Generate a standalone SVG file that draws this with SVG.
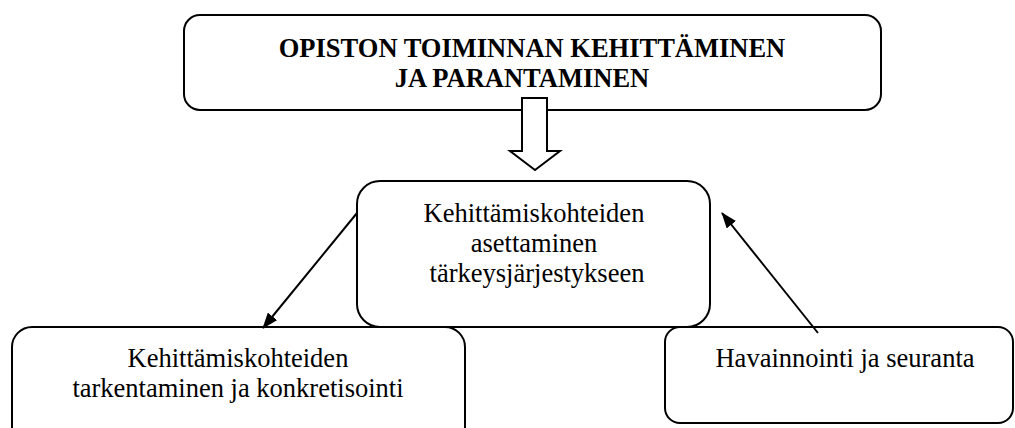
<svg xmlns="http://www.w3.org/2000/svg" width="1015" height="428" viewBox="0 0 1015 428">
<style>
.box{fill:#fff;stroke:#000;stroke-width:2}
.t{font-family:"Liberation Serif","Times New Roman",serif;font-size:26.5px;fill:#000;text-anchor:middle}
.b{font-weight:bold}
.con{stroke:#000;stroke-width:2;fill:none}
</style>
<defs>
<marker id="ah" markerWidth="16" markerHeight="12" refX="15" refY="6" orient="auto" markerUnits="userSpaceOnUse">
<path d="M0,0 L16,6 L0,12 Z" fill="#000"/>
</marker>
</defs>
<rect width="1015" height="428" fill="#fff"/>
<g id="top">
<rect class="box" x="184" y="15" width="697" height="95" rx="16"/>
<text class="t b" x="532" y="57">OPISTON TOIMINNAN KEHITTÄMINEN</text>
<text class="t b" x="522" y="87">JA PARANTAMINEN</text>
</g>
<g id="middle">
<rect class="box" x="357" y="181" width="353" height="146" rx="23"/>
<text class="t" x="534" y="222">Kehittämiskohteiden</text>
<text class="t" x="534" y="252">asettaminen</text>
<text class="t" x="537" y="282">tärkeysjärjestykseen</text>
</g>
<g id="left">
<rect class="box" x="12" y="327" width="453" height="120" rx="20"/>
<text class="t" x="238" y="367">Kehittämiskohteiden</text>
<text class="t" x="238" y="397">tarkentaminen ja konkretisointi</text>
</g>
<g id="right">
<rect class="box" x="665" y="327" width="348" height="96" rx="15"/>
<text class="t" x="845" y="367">Havainnointi ja seuranta</text>
</g>
<g id="connectors">
<line class="con" x1="357" y1="213" x2="263" y2="328" marker-end="url(#ah)"/>
<line class="con" x1="818" y1="333" x2="722" y2="213" marker-end="url(#ah)"/>
<polygon points="522,98 547,98 547,151 560,151 535,170 510,151 522,151" fill="#fff" stroke="#000" stroke-width="2"/>
</g>
</svg>
